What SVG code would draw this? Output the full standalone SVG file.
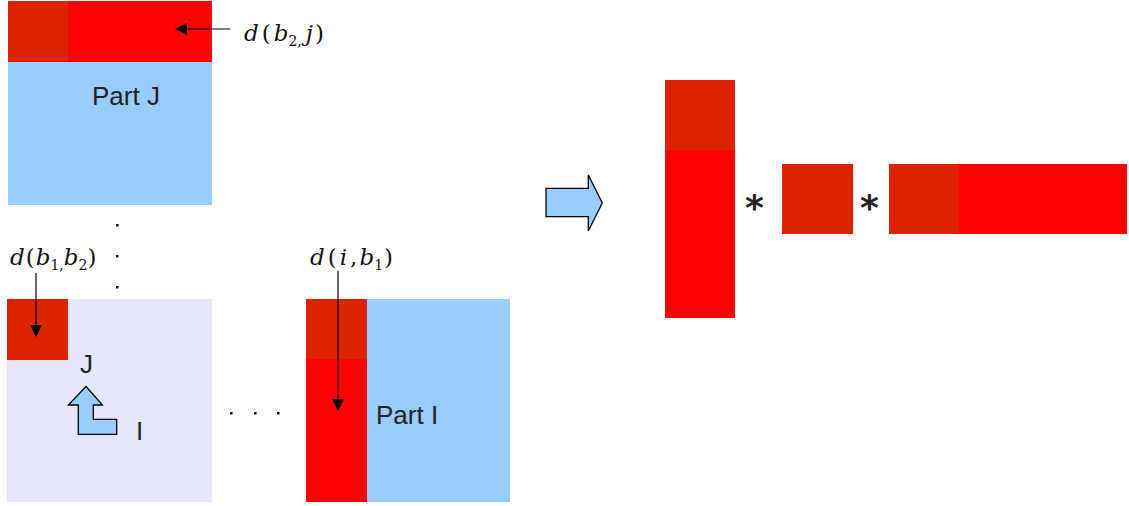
<svg xmlns="http://www.w3.org/2000/svg" width="1129" height="506" viewBox="0 0 1129 506">
<style>
.red{fill:#ff0000}
.dred{fill:#dc2300}
.blue{fill:#99ccff}
.lav{fill:#e6e6ff}
.lbl{font-family:"Liberation Sans",Arial,sans-serif;font-size:26px;fill:#222}
.math{font-family:"DejaVu Serif","Liberation Serif",serif;font-style:italic;font-size:23px;fill:#111}
.sub{font-size:14px;font-style:normal}
.np{font-style:normal}
.dot{fill:#111}
.conn{stroke:#000;stroke-width:1.2;fill:none}
.fat{fill:#99ccff;stroke:#000;stroke-width:1.3}
.star{font-family:"DejaVu Sans",sans-serif;font-size:36px;font-weight:bold;fill:#222}
</style>
<defs>
<marker id="ah" markerWidth="12" markerHeight="18" refX="11" refY="6" orient="auto" markerUnits="userSpaceOnUse" viewBox="0 0 12 12">
<path d="M0,0 L12,6 L0,12 Z" fill="#000"/>
</marker>
</defs>
<g id="partJ">
<rect class="blue" x="8" y="62" width="204" height="143"/>
<rect class="red" x="8" y="1" width="204" height="61"/>
<rect class="dred" x="8" y="1" width="60" height="61"/>
<text class="lbl" x="92" y="105">Part J</text>
</g>
<g id="label-b2j">
<text class="math" x="244" y="41">d<tspan class="np" dx="3">(</tspan><tspan dx="3">b</tspan><tspan class="sub" dy="5">2,</tspan><tspan dy="-5" dx="4">j</tspan><tspan class="np" dx="2">)</tspan></text>
</g>
<g id="vdots">
<rect class="dot" x="116" y="224" width="2.5" height="2.5"/>
<rect class="dot" x="116" y="255" width="2.5" height="2.5"/>
<rect class="dot" x="116" y="286" width="2.5" height="2.5"/>
</g>
<g id="label-b1b2">
<text class="math" x="10" y="265">d<tspan class="np" dx="1">(</tspan><tspan dx="1">b</tspan><tspan class="sub" dy="5">1,</tspan><tspan dy="-5">b</tspan><tspan class="sub" dy="5">2</tspan><tspan class="np" dy="-5">)</tspan></text>
</g>
<g id="block">
<rect class="lav" x="7" y="299" width="205" height="203"/>
<rect class="dred" x="7" y="299" width="61" height="61"/>
<text class="lbl" x="80" y="373">J</text>
<text class="lbl" x="136" y="440">I</text>
<path class="fat" d="M86,386.5 L102.5,405 L93.3,405 L93.3,419.3 L116.7,419.3 L116.7,434.3 L78.3,434.3 L78.3,405 L68.3,405 Z"/>
</g>
<g id="hdots">
<rect class="dot" x="230" y="412" width="2.5" height="2.5"/>
<rect class="dot" x="254" y="412" width="2.5" height="2.5"/>
<rect class="dot" x="277" y="412" width="2.5" height="2.5"/>
</g>
<g id="label-ib1">
<text class="math" x="310" y="265">d<tspan class="np" dx="3">(</tspan><tspan dx="3">i</tspan><tspan class="np" dx="3">,</tspan><tspan dx="2">b</tspan><tspan class="sub" dy="5">1</tspan><tspan class="np" dy="-5" dx="1">)</tspan></text>
</g>
<g id="partI">
<rect class="blue" x="367" y="299" width="143" height="203"/>
<rect class="red" x="306" y="299" width="61" height="203"/>
<rect class="dred" x="306" y="299" width="61" height="60"/>
<text class="lbl" x="376" y="424">Part I</text>
</g>
<g id="bigarrow">
<path class="fat" d="M546,188.3 L588.3,188.3 L588.3,175 L602.3,203 L588.3,231 L588.3,216.7 L546,216.7 Z"/>
</g>
<g id="result">
<rect class="red" x="665" y="80" width="70" height="238"/>
<rect class="dred" x="665" y="80" width="70" height="70"/>
<text class="star" x="745" y="220">*</text>
<rect class="dred" x="782" y="164" width="71" height="70"/>
<text class="star" x="860" y="220">*</text>
<rect class="red" x="889" y="164" width="238" height="70"/>
<rect class="dred" x="889" y="164" width="70" height="70"/>
</g>
<g id="connectors">
<line class="conn" x1="230" y1="29" x2="176" y2="29" marker-end="url(#ah)"/>
<line class="conn" x1="36" y1="273" x2="36" y2="336" marker-end="url(#ah)"/>
<line class="conn" x1="338" y1="271" x2="338" y2="410" marker-end="url(#ah)"/>
</g>
</svg>
